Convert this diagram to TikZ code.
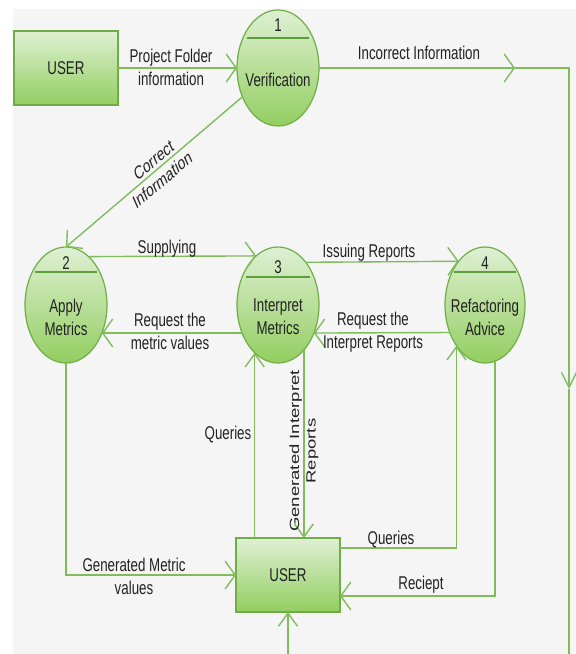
\documentclass[tikz,border=0pt]{standalone}
\usepackage{fontspec}
\setmainfont{Liberation Sans}[FakeStretch=0.72]
\newfontfamily\rotfont{Liberation Sans}
\usetikzlibrary{arrows.meta,shapes.geometric,calc}
\definecolor{bgc}{HTML}{F5F5F5}
\definecolor{lnc}{RGB}{128,188,92}
\definecolor{bdc}{RGB}{112,173,71}
\definecolor{fac}{HTML}{DEF0D3}
\definecolor{fbc}{HTML}{93CE60}
\definecolor{dvc}{RGB}{92,158,58}
\definecolor{txc}{HTML}{222222}
\begin{document}
\begin{tikzpicture}[x=1pt,y=-1pt,
  every node/.style={font=\fontsize{18.5}{23}\selectfont, text=txc},
  ent/.style={draw=bdc, line width=1.2pt, top color=fac, bottom color=fbc,
    minimum width=104pt, minimum height=74pt, inner sep=0pt, outer sep=0pt},
  proc/.style={ellipse, draw=bdc, line width=1.2pt, top color=fac, bottom color=fbc,
    minimum width=82pt, minimum height=116pt, inner sep=0pt, outer sep=0pt},
  lbl/.style={align=center, inner sep=0pt},
  rlbl/.style={lbl, font=\rotfont\fontsize{18.5}{23}\selectfont},
  flow/.style={draw=lnc, line width=1.4pt},
  divl/.style={draw=dvc, line width=1.6pt},
  harr/.style={-{Straight Barb[length=10pt,width=28pt]}},
  varr/.style={-{Straight Barb[length=13pt,width=19pt]}},
  darr/.style={-{Straight Barb[length=11pt,width=24pt]}},
  sarr/.style={-{Straight Barb[length=15pt,width=15pt]}},
]
\useasboundingbox (0,0) rectangle (576,654);
\fill[white] (0,0) rectangle (576,654);
\fill[bgc] (13,9) rectangle (576,654);

% entities and processes
\node[ent] (u1) at (66,68) {USER};
\node[proc] (v1) at (278,68) {};
\node[proc] (e2) at (66,305) {};
\node[proc] (e3) at (278,305) {};
\node[proc, minimum width=80pt] (e4) at (485,305) {};
\node[ent] (u2) at (288,575) {USER};

% process contents
\node[lbl] (n1) at (278,25) {1};
\draw[divl] ($(v1.center)+(-31,-30)$) -- ($(v1.center)+(31,-30)$);
\node[lbl] (t1) at (278,80) {Verification};

\node[lbl] (n2) at (66,263) {2};
\draw[divl] ($(e2.center)+(-31,-33)$) -- ($(e2.center)+(31,-33)$);
\node[lbl] (t2) at (66,317) {Apply\\Metrics};

\node[lbl] (n3) at (278,267) {3};
\draw[divl] ($(e3.center)+(-32,-28)$) -- ($(e3.center)+(32,-28)$);
\node[lbl] (t3) at (278,317) {Interpret\\Metrics};

\node[lbl] (n4) at (485,263) {4};
\draw[divl] ($(e4.center)+(-31,-33)$) -- ($(e4.center)+(31,-33)$);
\node[lbl] (t4) at (485,317) {Refactoring\\Advice};

% connectors
\coordinate (a1) at (515,68);
\coordinate (c1) at (569,68);
\coordinate (a2) at (569,389);
\coordinate (c2) at (569,654);
\draw[flow, harr] (u1.east) -- (v1.west);
\draw[flow, harr] (v1.east) -- (a1);
\draw[flow, sarr] (a1) -- (c1) -- (a2);
\draw[flow] (a2) -- (c2);

\draw[flow, darr] (v1.219) -- (e2.north);
\draw[flow, harr] (e2.65.9) -- (e3.114.1);
\draw[flow, harr] (e3.57.4) -- (e4.121.9);
\draw[flow, harr] (e3.218) -- (e2.322);
\draw[flow, harr] (e4.218.7) -- (e3.322);

\draw[flow, harr] (e2.south) |- (u2.west);
\draw[flow, varr] (e3.244.4 |- u2.north) -- (e3.244.4);
\draw[flow, varr] (e3.300.1) -- (e3.300.1 |- u2.north);
\coordinate (q2) at ($(u2.north east)+(0,10)$);
\draw[flow, varr] (q2) -| (e4.235.9);
\coordinate (r2) at ($(u2.south east)+(0,-16)$);
\draw[flow, harr] (e4.280.1) |- (r2);
\coordinate (b1) at (288,654);
\draw[flow, varr] (b1) -- (u2.south);

% labels
\node[lbl] (l-pf) at (171,67) {Project Folder\\information};
\node[lbl] (l-inc) at (419,53) {Incorrect Information};
\node[lbl] (l-sup) at (167,249) {Supplying};
\node[lbl] (l-iss) at (369,253) {Issuing Reports};
\node[lbl] (l-rmv) at (170,331) {Request the\\metric values};
\node[lbl] (l-rir) at (373,332) {Request the\\Interpret Reports};
\node[lbl] (l-q1) at (228,435) {Queries};
\node[lbl] (l-q2) at (391,540) {Queries};
\node[lbl] (l-gmv) at (134,576) {Generated Metric\\values};
\node[lbl] (l-rec) at (421,585) {Reciept};

\begin{scope}[shift={(158,170)}, xscale=0.72]
  \node[rlbl, rotate=31.5, transform shape] (l-ci) at (0,0) {Correct\\Information};
\end{scope}
\begin{scope}[shift={(304,451)}, xscale=0.72]
  \node[rlbl, rotate=90, transform shape] (l-gir) at (0,0) {Generated Interpret\\Reports};
\end{scope}
\end{tikzpicture}
\end{document}
